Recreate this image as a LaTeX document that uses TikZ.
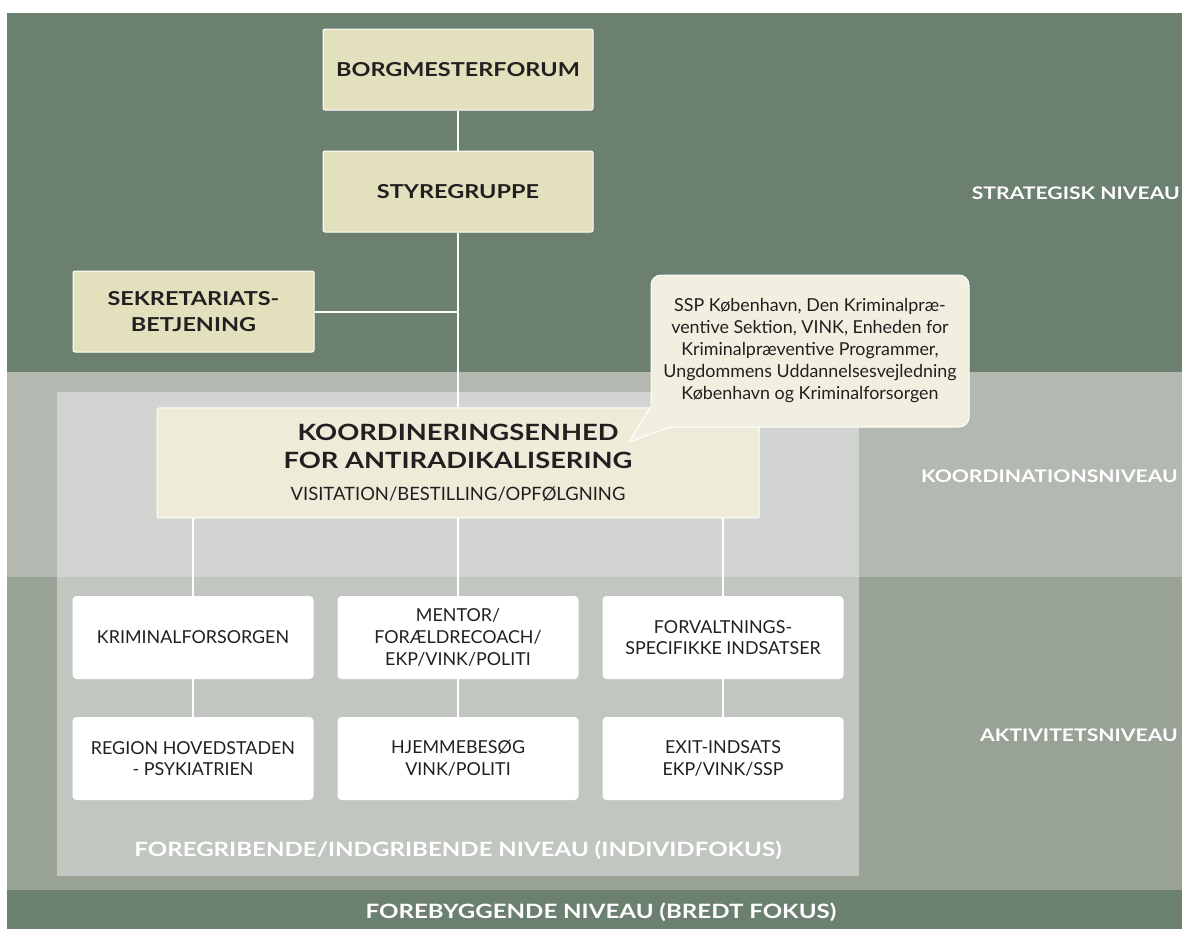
\documentclass[tikz,border=0pt]{standalone}
\usepackage{fontspec}
\setmainfont{Lato}
\newfontfamily\widesans{Lato}[FakeStretch=1.22]

\definecolor{darkgreen}{HTML}{6C8070}
\definecolor{koordband}{HTML}{B3B8B1}
\definecolor{aktivband}{HTML}{98A396}
\definecolor{topfill}{HTML}{E3E0BD}
\definecolor{koordfill}{HTML}{EEECD9}
\definecolor{notefill}{HTML}{F1F0E0}
\definecolor{textgray}{HTML}{231F20}

\tikzset{
  topbox/.style = {draw=white, line width=0.75pt, fill=topfill, rounded corners=1.5pt,
    minimum width=202.5pt, minimum height=60.75pt,
    font=\widesans\bfseries\fontsize{14.4}{20}\selectfont},
  koordbox/.style = {draw=white, line width=0.75pt, fill=koordfill, rounded corners=1.5pt,
    minimum width=451.5pt, minimum height=82.5pt,
    font=\widesans\bfseries\fontsize{16.8}{21}\selectfont},
  actbox/.style = {fill=white, rounded corners=3pt,
    minimum width=180.75pt, minimum height=62.25pt,
    font=\fontsize{13.4}{16.3}\selectfont},
  notebox/.style = {draw=white, line width=0.75pt, fill=notefill, rounded corners=7.5pt,
    minimum width=238.5pt, minimum height=114pt,
    font=\fontsize{13.4}{16.5}\selectfont},
  levellabel/.style = {text=white, font=\widesans\bfseries\fontsize{13}{15}\selectfont},
  baselabel/.style = {text=white, font=\widesans\bfseries\fontsize{14.8}{16}\selectfont},
  link/.style = {draw=white, line width=1.5pt}
}

\begin{document}
\begin{tikzpicture}[x=0.75pt, y=-0.75pt,
  every node/.style = {align=center, text=textgray, inner sep=0pt},
  edge from parent/.style = {link},
  edge from parent path = {(\tikzchildnode.north) -- (\tikzchildnode.north |- \tikzparentnode.south)},
  level 1/.style = {level distance=91.5pt},
  level 2/.style = {level distance=203.6pt},
  level 3/.style = {level distance=130.9pt, sibling distance=198.75pt},
  level 4/.style = {level distance=90.75pt}]

  % bands
  \fill[white] (0,0) rectangle (1182,929);
  \useasboundingbox (0,0) rectangle (1182,929);
  \fill[darkgreen] (7,13) rectangle (1182,372);
  \fill[koordband] (7,372) rectangle (1182,577);
  \fill[aktivband] (7,577) rectangle (1182,890);
  \fill[darkgreen] (7,890) rectangle (1182,929);
  \fill[white, opacity=0.4] (57,392) rectangle (859,876);

  \node[topbox] (borg) at (458,69.5) {BORGMESTERFORUM}
    child { node[topbox] (styre) {STYREGRUPPE}
      child { node[koordbox] (koord) {KOORDINERINGSENHED\\FOR ANTIRADIKALISERING\\[3pt]
          \normalfont\fontsize{13.8}{21}\selectfont VISITATION/BESTILLING/OPFØLGNING}
        child { node[actbox] (krim) {KRIMINALFORSORGEN}
          child { node[actbox] (region) {REGION HOVEDSTADEN\\- PSYKIATRIEN} }
        }
        child { node[actbox] (mentor) {MENTOR/\\FORÆLDRECOACH/\\EKP/VINK/POLITI}
          child { node[actbox] (hjem) {HJEMMEBESØG\\VINK/POLITI} }
        }
        child { node[actbox] (forv) {FORVALTNINGS-\\SPECIFIKKE INDSATSER}
          child { node[actbox] (exit) {EXIT-INDSATS\\EKP/VINK/SSP} }
        }
      }
    };

  \node[topbox, minimum width=180.75pt] (sekr) at (193.5,311.5) {SEKRETARIATS-\\BETJENING};
  \draw[link] (sekr.east) -- (sekr.east -| styre.south);

  % callout
  \node[notebox] (note) at (810,351) {SSP København, Den Kriminalpræ-\\ventive Sektion, VINK, Enheden for\\
    Kriminalpræventive Programmer,\\Ungdommens Uddannelsesvejledning\\København og Kriminalforsorgen};
  \fill[notefill] (651,406) -- (629,442) -- (670,427) -- cycle;
  \draw[white, line width=0.75pt] (651,406) -- (629,442) -- (670,427);

  % levels
  \node[levellabel, anchor=east] (strat) at (1180,193) {STRATEGISK NIVEAU};
  \node[levellabel, anchor=east] (koordlvl) at (1178,476) {KOORDINATIONSNIVEAU};
  \node[levellabel, anchor=east] (aktlvl) at (1178,735) {AKTIVITETSNIVEAU};
  \node[baselabel] (foregr) at (458,850) {FOREGRIBENDE/INDGRIBENDE NIVEAU (INDIVIDFOKUS)};
  \node[baselabel] (foreb) at (601,912) {FOREBYGGENDE NIVEAU (BREDT FOKUS)};
\end{tikzpicture}
\end{document}
